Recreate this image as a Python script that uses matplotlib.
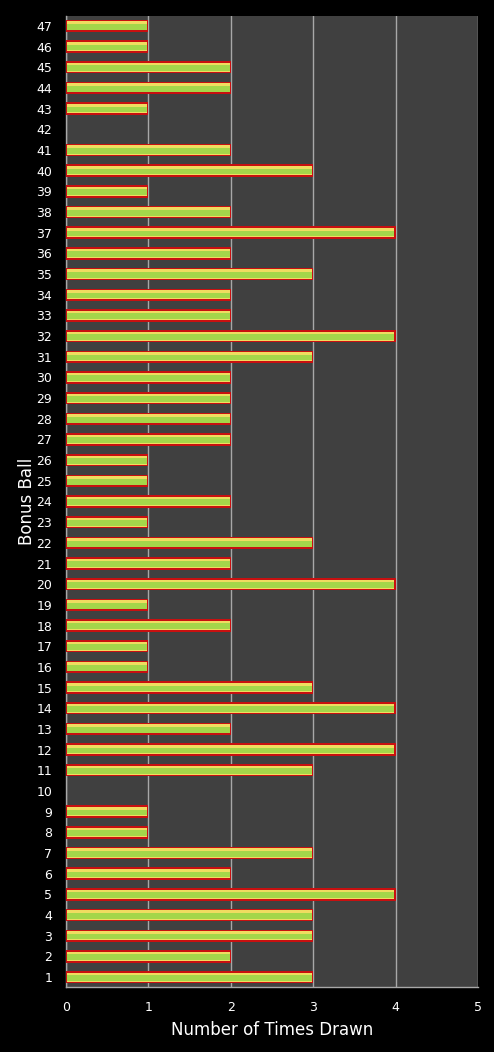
import matplotlib
matplotlib.use('Agg')
from matplotlib import pyplot as plt

balls = list(range(1, 48))
times_drawn = [3, 2, 3, 3, 4, 2, 3, 1, 1, 0,
               3, 4, 2, 4, 3, 1, 1, 2, 1, 4,
               2, 3, 1, 2, 1, 1, 2, 2, 2, 2,
               3, 4, 2, 2, 3, 2, 4, 2, 1, 3,
               2, 0, 1, 2, 2, 1, 1]

fig = plt.figure(figsize=(4.94, 10.52), dpi=100, facecolor='black')
ax = fig.add_axes([0.1336, 0.0618, 0.834, 0.923])
ax.set_facecolor('#404040')

# only the drawn balls get a bar (0 would leave a red sliver)
drawn = [b for b, v in zip(balls, times_drawn) if v > 0]
vals = [v for v in times_drawn if v > 0]
inner = [v - 0.03 for v in vals]

# layered bars to fake the red rim / yellow glow / green core look
ax.barh(drawn, vals, height=0.6, color='#c81010', linewidth=0, zorder=3)
ax.barh(drawn, inner, height=0.44, left=0.015, color='#f0dc60', linewidth=0, zorder=4)
ax.barh([b - 0.04 for b in drawn], inner, height=0.28, left=0.015,
        color='#a4d64a', linewidth=0, zorder=5)

ax.set_xlim(0, 5)
ax.set_ylim(0.52, 47.48)
ax.set_xticks(range(0, 6))
ax.set_yticks(balls)
ax.set_yticklabels([str(b) for b in balls])
ax.grid(axis='x', color='#a8a8a8', linewidth=1, zorder=1)
ax.set_axisbelow(True)

for s in ['top', 'right']:
    ax.spines[s].set_visible(False)
for s in ['left', 'bottom']:
    ax.spines[s].set_color('#a8a8a8')
    ax.spines[s].set_linewidth(1)

ax.tick_params(axis='both', colors='white', length=0, labelsize=9)
ax.tick_params(axis='y', pad=10)
ax.tick_params(axis='x', pad=10)

ax.set_xlabel('Number of Times Drawn', color='white', fontsize=12, labelpad=5)
ax.set_ylabel('Bonus Ball', color='white', fontsize=12)
ax.yaxis.set_label_coords(-0.072, 0.5)

fig.savefig('out.png', facecolor='black')
